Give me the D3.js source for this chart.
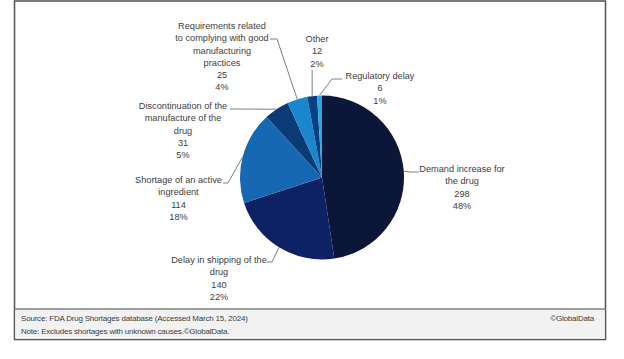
<!DOCTYPE html>
<html>
<head>
<meta charset="utf-8">
<script src="https://cdn.jsdelivr.net/npm/d3@7"></script>
<style>
  html, body { margin: 0; padding: 0; background: #ffffff; }
  svg { display: block; }
  text { font-family: "Liberation Sans", Arial, sans-serif; fill: #404040; }
</style>
</head>
<body>
<svg id="chart" width="624" height="359"></svg>
<script>
// ---- Data ----
const categories = [
  "Demand increase for the drug",
  "Delay in shipping of the drug",
  "Shortage of an active ingredient",
  "Discontinuation of the manufacture of the drug",
  "Requirements related to complying with good manufacturing practices",
  "Other",
  "Regulatory delay"
];
const values = [298, 140, 114, 31, 25, 12, 6];
const labelLines = [
  ["Demand increase for", "the drug"],
  ["Delay in shipping of the", "drug"],
  ["Shortage of an active", "ingredient"],
  ["Discontinuation of the", "manufacture of the", "drug"],
  ["Requirements related", "to complying with good", "manufacturing", "practices"],
  ["Other"],
  ["Regulatory delay"]
];
const colors = ["#0c1639", "#0c2264", "#1768b2", "#0a3b77", "#1a86cb", "#0b3f83", "#2aa6e6"];
const sourceText = "Source: FDA Drug Shortages database (Accessed March 15, 2024)";
const noteText = "Note: Excludes shortages with unknown causes.\u00A9GlobalData.";
const creditText = "\u00A9GlobalData";

// ---- Layout (positions) ----
const cx = 322, cy = 177.5, R = 82;
const lineH = 12.2;
const labelLayout = [
  { x: 462,   y: 169, end: [419, 172], elbow: [412, 172] },
  { x: 219,   y: 260, end: [267, 262], elbow: [272, 262] },
  { x: 178.5, y: 180, end: [223, 183], elbow: [228, 183] },
  { x: 183,   y: 106, end: [230, 109], elbow: [236, 109] },
  { x: 222,   y: 26,  end: [270, 39],  elbow: [277, 39] },
  { x: 317,   y: 39,  end: null,       vertTop: 70 },
  { x: 380,   y: 76,  end: [342, 79],  elbow: [332, 79] }
];

const svg = d3.select("#chart");

// Frame
svg.append("rect")
  .attr("x", 14.5).attr("y", 1).attr("width", 591).attr("height", 338.5)
  .attr("fill", "#ffffff").attr("stroke", "#595959").attr("stroke-width", 1.6);
svg.append("rect")
  .attr("x", 15.3).attr("y", 309.5).attr("width", 589.4).attr("height", 29.2)
  .attr("fill", "#f2f2f2");
svg.append("line")
  .attr("x1", 14.5).attr("x2", 605.5).attr("y1", 309).attr("y2", 309)
  .attr("stroke", "#808080").attr("stroke-width", 1.5);

// Pie
const total = d3.sum(values);
const pie = d3.pie().sort(null).value(d => d)(values);
const arc = d3.arc().innerRadius(0).outerRadius(R);

const g = svg.append("g").attr("transform", `translate(${cx},${cy})`);
g.selectAll("path.slice")
  .data(pie)
  .join("path")
  .attr("class", "slice")
  .attr("d", arc)
  .attr("fill", (d, i) => colors[i])
  .attr("stroke", "none");

// Leader lines
const leaderG = svg.append("g");
pie.forEach((d, i) => {
  const a = (d.startAngle + d.endAngle) / 2;
  const px = cx + R * Math.sin(a);
  const py = cy - R * Math.cos(a);
  const L = labelLayout[i];
  const pts = L.end === null ? [[px, L.vertTop], [px, py]] : [L.end, L.elbow, [px, py]];
  leaderG.append("path")
    .attr("d", d3.line()(pts))
    .attr("fill", "none")
    .attr("stroke", "#7f7f7f")
    .attr("stroke-width", 1);
});

// Labels
const fmtPct = v => Math.round(v / total * 100) + "%";
labelLayout.forEach((L, i) => {
  const lines = labelLines[i].concat([String(values[i]), fmtPct(values[i])]);
  const t = svg.append("text")
    .attr("text-anchor", "middle")
    .style("font-size", "9.2px");
  lines.forEach((s, k) => {
    t.append("tspan")
      .attr("x", L.x)
      .attr("y", L.y + k * lineH)
      .attr("dy", "0.35em")
      .text(s);
  });
});

// Footer
const footStyle = sel => sel.style("font-size", "8px").style("letter-spacing", "-0.2px");
footStyle(svg.append("text").attr("x", 21).attr("y", 318).attr("dy", "0.35em").text(sourceText));
footStyle(svg.append("text").attr("x", 21).attr("y", 331).attr("dy", "0.35em").text(noteText));
footStyle(svg.append("text").attr("x", 594).attr("y", 318).attr("dy", "0.35em")
  .attr("text-anchor", "end").text(creditText));
</script>
</body>
</html>
